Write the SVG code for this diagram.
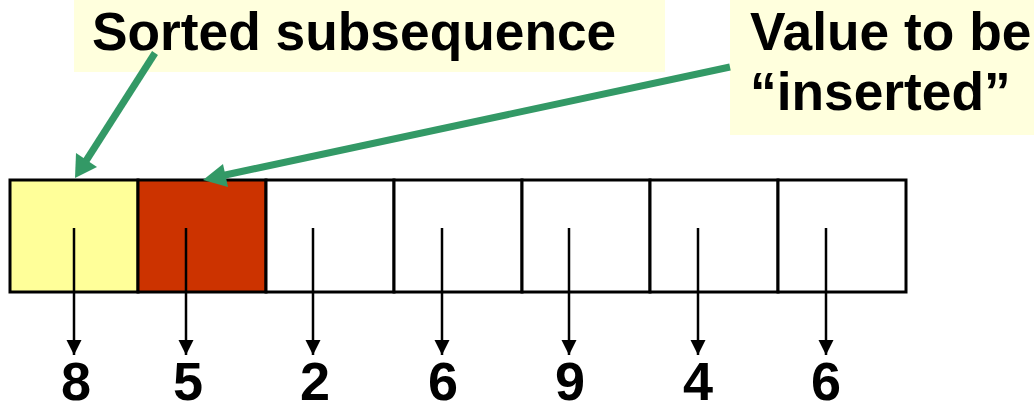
<svg xmlns="http://www.w3.org/2000/svg" width="1034" height="405" viewBox="0 0 1034 405">
<defs>
<style>
.lbl{fill:#FFFFDD;stroke:none}
.t{font-family:"Liberation Sans",Arial,sans-serif;font-weight:bold;fill:#000}
.big{font-size:53.3px}
.num{font-size:54px;text-anchor:middle}
.cell{stroke:#000;stroke-width:3}
.ptr{stroke:#000;stroke-width:2.5;fill:none;marker-end:url(#blk)}
.grn{stroke:#339966;stroke-width:7;fill:none}
</style>
<marker id="blk" viewBox="0 0 10 10" refX="10" refY="5" markerUnits="userSpaceOnUse" markerWidth="15" markerHeight="16" orient="auto">
<path d="M0,0 L10,5 L0,10 z" fill="#000"/>
</marker>
</defs>
<g id="label-sorted">
<rect class="lbl" x="74" y="0" width="591" height="72"/>
<text class="t big" x="92" y="50">Sorted subsequence</text>
</g>
<g id="label-value">
<rect class="lbl" x="730" y="0" width="304" height="135"/>
<text class="t big" x="750" y="50">Value to be</text>
<text class="t big" x="750" y="110">“inserted”</text>
</g>
<g id="array">
<rect class="cell" x="10" y="180" width="128" height="112" fill="#FFFF99"/>
<rect class="cell" x="138" y="180" width="128" height="112" fill="#CC3300"/>
<rect class="cell" x="266" y="180" width="128" height="112" fill="#FFFFFF"/>
<rect class="cell" x="394" y="180" width="128" height="112" fill="#FFFFFF"/>
<rect class="cell" x="522" y="180" width="128" height="112" fill="#FFFFFF"/>
<rect class="cell" x="650" y="180" width="128" height="112" fill="#FFFFFF"/>
<rect class="cell" x="778" y="180" width="128" height="112" fill="#FFFFFF"/>
</g>
<g id="values">
<text class="t num" x="76" y="400">8</text>
<text class="t num" x="188" y="400">5</text>
<text class="t num" x="315" y="400">2</text>
<text class="t num" x="443" y="400">6</text>
<text class="t num" x="570" y="400">9</text>
<text class="t num" x="698" y="400">4</text>
<text class="t num" x="826" y="400">6</text>
</g>
<g id="connectors">
<line class="ptr" x1="74" y1="228" x2="74" y2="355"/>
<line class="ptr" x1="186" y1="228" x2="186" y2="355"/>
<line class="ptr" x1="313" y1="228" x2="313" y2="355"/>
<line class="ptr" x1="442" y1="228" x2="442" y2="355"/>
<line class="ptr" x1="569" y1="228" x2="569" y2="355"/>
<line class="ptr" x1="698" y1="228" x2="698" y2="355"/>
<line class="ptr" x1="826" y1="228" x2="826" y2="355"/>
<line class="grn" x1="155" y1="53" x2="84" y2="164"/>
<polygon points="75,178 76,153 97,167" fill="#339966"/>
<line class="grn" x1="730" y1="67" x2="216" y2="177"/>
<polygon points="203,180 223,164 228,187" fill="#339966"/>
</g>
</svg>
